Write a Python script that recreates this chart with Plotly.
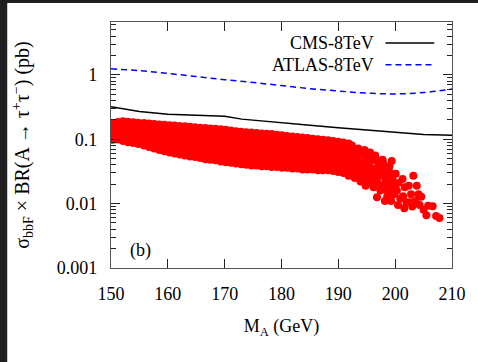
import plotly.graph_objects as go

# ---- data ----
MA_CMS = [150, 155, 160, 165, 170, 173, 176, 180, 185, 190, 195, 200, 205, 210]
SIG_CMS = [0.32, 0.27, 0.243, 0.235, 0.228, 0.205, 0.193, 0.18, 0.165, 0.15, 0.138, 0.125, 0.118, 0.115]

MA_ATLAS = [150, 155, 160, 165, 170, 175, 180, 185, 190, 195, 200, 205, 210]
SIG_ATLAS = [1.24, 1.16, 1.05, 0.94, 0.84, 0.76, 0.68, 0.61, 0.56, 0.52, 0.505, 0.53, 0.6]

# dense part of the scan: one column of points per mass value
SCAN_MA = [150.3, 151.2, 152.1, 153.0, 153.9, 154.8, 155.8, 156.7, 157.6, 158.5,
           159.4, 160.3, 161.2, 162.1, 163.0, 163.9, 164.8, 165.7, 166.6, 167.5,
           168.4, 169.3, 170.2, 171.1, 172.0, 172.9, 173.8, 174.7, 175.6, 176.5,
           177.4, 178.3, 179.2, 180.1, 181.0, 181.9, 182.8, 183.7, 184.6, 185.5,
           186.4, 187.3, 188.2, 189.1, 190.0, 190.9, 191.8]
SCAN_SIG = [
    [0.175, 0.155, 0.138, 0.122, 0.108, 0.098],
    [0.185, 0.165, 0.145, 0.128, 0.113, 0.099],
    [0.19, 0.168, 0.148, 0.13, 0.115, 0.101, 0.094],
    [0.186, 0.165, 0.146, 0.128, 0.112, 0.099, 0.09],
    [0.183, 0.16, 0.14, 0.123, 0.108, 0.097, 0.087],
    [0.18, 0.158, 0.138, 0.12, 0.105, 0.093, 0.084],
    [0.178, 0.156, 0.136, 0.118, 0.102, 0.09, 0.08],
    [0.175, 0.153, 0.133, 0.115, 0.1, 0.087, 0.076],
    [0.172, 0.15, 0.13, 0.112, 0.096, 0.083, 0.072],
    [0.169, 0.148, 0.128, 0.11, 0.094, 0.08, 0.068],
    [0.167, 0.145, 0.125, 0.107, 0.091, 0.077, 0.065],
    [0.165, 0.143, 0.123, 0.105, 0.089, 0.075, 0.062],
    [0.163, 0.141, 0.12, 0.102, 0.086, 0.072, 0.06],
    [0.161, 0.139, 0.118, 0.1, 0.084, 0.07, 0.058],
    [0.159, 0.137, 0.116, 0.098, 0.082, 0.068, 0.056],
    [0.156, 0.134, 0.114, 0.096, 0.08, 0.066, 0.054],
    [0.154, 0.132, 0.112, 0.094, 0.078, 0.064, 0.053],
    [0.151, 0.13, 0.11, 0.092, 0.076, 0.062, 0.051],
    [0.149, 0.128, 0.108, 0.09, 0.074, 0.06, 0.049],
    [0.147, 0.126, 0.106, 0.088, 0.072, 0.058, 0.048],
    [0.145, 0.124, 0.104, 0.086, 0.07, 0.057, 0.047],
    [0.143, 0.122, 0.102, 0.084, 0.068, 0.055, 0.045],
    [0.14, 0.12, 0.1, 0.082, 0.067, 0.054, 0.044],
    [0.137, 0.117, 0.098, 0.08, 0.065, 0.053, 0.043],
    [0.133, 0.114, 0.096, 0.079, 0.064, 0.052, 0.042],
    [0.13, 0.112, 0.094, 0.077, 0.063, 0.051, 0.041],
    [0.128, 0.11, 0.092, 0.076, 0.062, 0.05, 0.04],
    [0.127, 0.108, 0.09, 0.075, 0.061, 0.049, 0.039],
    [0.125, 0.107, 0.089, 0.074, 0.06, 0.048, 0.039],
    [0.123, 0.105, 0.088, 0.073, 0.059, 0.047, 0.038],
    [0.122, 0.104, 0.087, 0.072, 0.058, 0.046, 0.038],
    [0.12, 0.102, 0.086, 0.071, 0.057, 0.046, 0.037],
    [0.117, 0.1, 0.084, 0.07, 0.056, 0.045, 0.037],
    [0.115, 0.098, 0.083, 0.069, 0.056, 0.045, 0.036],
    [0.112, 0.096, 0.081, 0.067, 0.055, 0.044, 0.036],
    [0.11, 0.094, 0.08, 0.066, 0.054, 0.044, 0.035],
    [0.108, 0.092, 0.078, 0.065, 0.053, 0.043, 0.035],
    [0.106, 0.09, 0.076, 0.064, 0.052, 0.042, 0.034],
    [0.104, 0.089, 0.075, 0.063, 0.051, 0.042, 0.034],
    [0.102, 0.087, 0.074, 0.062, 0.05, 0.041, 0.034],
    [0.1, 0.085, 0.072, 0.06, 0.049, 0.04, 0.033],
    [0.098, 0.083, 0.07, 0.059, 0.048, 0.04, 0.033],
    [0.096, 0.081, 0.069, 0.058, 0.047, 0.039, 0.033],
    [0.094, 0.08, 0.067, 0.056, 0.046, 0.038, 0.032],
    [0.091, 0.077, 0.065, 0.054, 0.045, 0.037, 0.031],
    [0.089, 0.075, 0.063, 0.052, 0.043, 0.035, 0.03],
    [0.086, 0.072, 0.06, 0.05, 0.041, 0.033, 0.027],
]

# scattered tail of the scan
TAIL_MA = [192.4, 192.8, 192.5, 193.0, 192.6, 193.1, 192.9,
           193.5, 193.8, 193.4, 194.0, 193.6, 194.1, 193.9,
           194.6, 194.9, 194.4, 195.0, 194.7, 195.2, 194.8,
           195.6, 195.9, 195.4, 196.1, 195.7, 196.2, 196.8,
           196.5, 197.0, 196.6, 197.3, 196.9, 197.4,
           197.8, 198.1, 197.7, 198.3, 198.0, 198.6, 198.2,
           199.4, 199.0, 199.5, 199.2, 199.8, 199.3,
           200.1, 200.6, 200.3, 200.9, 200.5,
           201.3, 201.7, 201.4, 202.0, 201.6,
           202.4, 202.8, 202.6, 203.0,
           203.2, 203.8, 204.1, 203.6,
           204.6, 204.3, 205.0,
           205.8, 206.6, 205.5, 207.2, 207.8,
           192.2, 192.3, 192.7, 193.2, 193.3, 193.7, 194.2, 194.3, 194.5,
           194.9, 195.1, 195.3, 195.5, 195.8, 196.0, 196.3, 196.4, 196.7,
           197.1, 197.5, 197.6, 197.9, 198.4, 198.5, 198.8, 199.0, 199.6, 200.0]
TAIL_SIG = [0.080, 0.066, 0.055, 0.046, 0.038, 0.030, 0.025,
            0.072, 0.058, 0.048, 0.040, 0.033, 0.027, 0.022,
            0.068, 0.052, 0.043, 0.035, 0.029, 0.024, 0.019,
            0.062, 0.047, 0.038, 0.031, 0.025, 0.018, 0.0125,
            0.056, 0.043, 0.034, 0.027, 0.021, 0.016,
            0.048, 0.036, 0.029, 0.023, 0.017, 0.013, 0.011,
            0.046, 0.031, 0.025, 0.019, 0.014, 0.011,
            0.029, 0.021, 0.016, 0.012, 0.0095,
            0.024, 0.018, 0.013, 0.0105, 0.0085,
            0.019, 0.014, 0.0105, 0.009,
            0.027, 0.019, 0.014, 0.011,
            0.0128, 0.0095, 0.008,
            0.0093, 0.0091, 0.0066, 0.0064, 0.006,
            0.07, 0.035, 0.028, 0.062, 0.042, 0.025, 0.058, 0.036, 0.022,
            0.063, 0.042, 0.027, 0.021, 0.053, 0.035, 0.028, 0.022, 0.048,
            0.038, 0.031, 0.019, 0.042, 0.027, 0.02, 0.015, 0.038, 0.022, 0.017]

X_TICKS = [150, 160, 170, 180, 190, 200, 210]
Y_TICKS = [0.001, 0.01, 0.1, 1]
Y_TICKTEXT = ["0.001", "0.01", "0.1", "1"]
Y_MINOR = [k * 10.0 ** d for d in (-3, -2, -1) for k in range(2, 10)] + [2, 3, 4, 5, 6]

# flatten scan table
scan_x, scan_y = [], []
for m, vals in zip(SCAN_MA, SCAN_SIG):
    for v in vals:
        scan_x.append(m)
        scan_y.append(v)
scan_x += TAIL_MA
scan_y += TAIL_SIG

FONT = "Liberation Serif"

fig = go.Figure()
fig.add_trace(go.Scatter(x=scan_x, y=scan_y, mode="markers",
                         marker=dict(color="#ff0000", size=8, line=dict(width=0)),
                         showlegend=False, cliponaxis=True))
fig.add_trace(go.Scatter(x=MA_CMS, y=SIG_CMS, mode="lines",
                         line=dict(color="black", width=1.5), showlegend=False))
fig.add_trace(go.Scatter(x=MA_ATLAS, y=SIG_ATLAS, mode="lines",
                         line=dict(color="#0000ff", width=1.5, dash="6px,4px"),
                         line_shape="spline", showlegend=False))

axis_common = dict(showline=True, linecolor="#555555", linewidth=1.2, mirror="ticks",
                   ticks="inside", tickcolor="#222222", showgrid=False, zeroline=False,
                   tickfont=dict(family=FONT, size=18, color="black"))

fig.update_xaxes(range=[150, 210], tickvals=X_TICKS, ticklen=9,
                 ticklabelstandoff=9,
                 title=dict(text="M<sub>A</sub> (GeV)", font=dict(family=FONT, size=18, color="black"),
                            standoff=16),
                 **axis_common)
fig.update_yaxes(type="log", range=[-3, 0.82], tickvals=Y_TICKS, ticktext=Y_TICKTEXT,
                 ticklen=9, ticklabelstandoff=9,
                 minor=dict(ticks="inside", ticklen=5, tickvals=Y_MINOR, tickcolor="#222222",
                            showgrid=False),
                 title=dict(text="σ<sub>bbF</sub> × BR(A → τ<sup>+</sup>τ<sup>−</sup>) (pb)",
                            font=dict(family=FONT, size=20, color="black"), standoff=21),
                 **axis_common)

# legend (text on left, sample on right)
legend_items = [("CMS-8TeV", dict(color="black", width=1.5)),
                ("ATLAS-8TeV", dict(color="#0000ff", width=1.5, dash="6px,4px"))]
leg_y = [0.915, 0.826]
for (txt, ln), yy in zip(legend_items, leg_y):
    fig.add_annotation(text=txt, xref="paper", yref="paper", x=0.776, y=yy,
                       xanchor="right", yanchor="middle", showarrow=False,
                       font=dict(family=FONT, size=18, color="black"))
    fig.add_shape(type="line", xref="paper", yref="paper", x0=0.805, x1=0.948,
                  y0=yy, y1=yy, line=ln)

fig.add_annotation(text="(b)", xref="paper", yref="paper", x=0.087, y=0.073,
                   xanchor="center", yanchor="middle", showarrow=False,
                   font=dict(family=FONT, size=18, color="black"))

# dark window frame at top and left
fig.add_shape(type="rect", xref="paper", yref="paper", x0=-0.33, x1=-0.3043, y0=-0.5, y1=1.2,
              fillcolor="#1f1f1f", line=dict(width=0), layer="below")
fig.add_shape(type="rect", xref="paper", yref="paper", x0=-0.33, x1=1.2, y0=1.0772, y1=1.2,
              fillcolor="#1f1f1f", line=dict(width=0), layer="below")

fig.update_layout(width=478, height=362, margin=dict(l=111, r=22, t=22, b=94),
                  paper_bgcolor="white", plot_bgcolor="white", showlegend=False)

fig.write_html("out.html")
